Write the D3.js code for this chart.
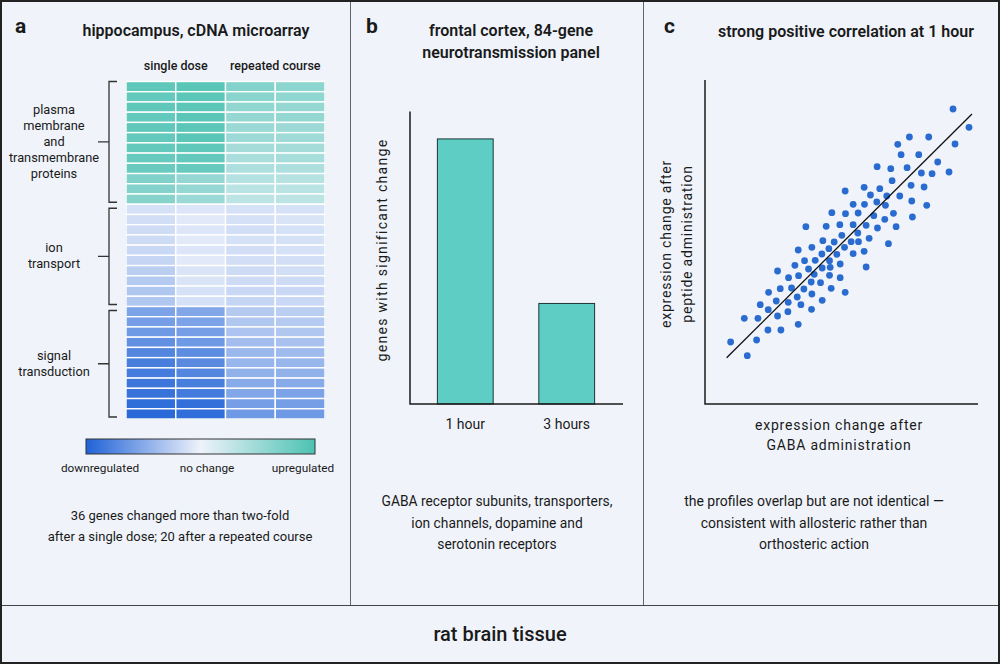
<!DOCTYPE html>
<html>
<head>
<meta charset="utf-8">
<script src="https://cdn.jsdelivr.net/npm/d3@7"></script>
<style>
  body { margin: 0; background: #f0f4fa; }
  text { font-family: Roboto, "Noto Sans", sans-serif; fill: #1a1a1a; }
</style>
</head>
<body>
<div id="graph"></div>
<script>
// page
var width = 1000;
var height = 664;

// panel a: heatmap (rows = genes, columns = 2 x single dose, 2 x repeated course)
var conditions = ["single dose", "repeated course"];
var geneGroups = [["plasma", "membrane", "and", "transmembrane", "proteins"], ["ion", "transport"], ["signal", "transduction"]];
var groupSizes = [12, 10, 11];
var heatValues = [
    [0.88, 0.92, 0.66, 0.60],
    [0.86, 0.90, 0.62, 0.58],
    [0.88, 0.90, 0.58, 0.55],
    [0.86, 0.92, 0.55, 0.55],
    [0.88, 0.90, 0.52, 0.50],
    [0.86, 0.92, 0.50, 0.48],
    [0.85, 0.88, 0.45, 0.45],
    [0.84, 0.86, 0.42, 0.44],
    [0.82, 0.84, 0.40, 0.40],
    [0.68, 0.55, 0.36, 0.34],
    [0.66, 0.55, 0.32, 0.32],
    [0.64, 0.52, 0.30, 0.30],
    [-0.12, -0.08, -0.12, -0.12],
    [-0.14, -0.06, -0.12, -0.10],
    [-0.15, -0.08, -0.14, -0.12],
    [-0.16, -0.06, -0.12, -0.12],
    [-0.18, -0.08, -0.14, -0.12],
    [-0.20, -0.06, -0.14, -0.14],
    [-0.25, -0.10, -0.16, -0.14],
    [-0.28, -0.10, -0.16, -0.16],
    [-0.30, -0.12, -0.18, -0.18],
    [-0.30, -0.12, -0.20, -0.18],
    [-0.55, -0.52, -0.28, -0.25],
    [-0.58, -0.55, -0.30, -0.28],
    [-0.62, -0.58, -0.32, -0.30],
    [-0.68, -0.62, -0.36, -0.34],
    [-0.75, -0.70, -0.40, -0.38],
    [-0.80, -0.72, -0.42, -0.42],
    [-0.82, -0.75, -0.45, -0.45],
    [-0.86, -0.80, -0.50, -0.50],
    [-0.88, -0.82, -0.52, -0.55],
    [-0.92, -0.90, -0.58, -0.58],
    [-0.95, -0.92, -0.62, -0.62]
];
var legendLabels = ["downregulated", "no change", "upregulated"];
var noteA = ["36 genes changed more than two-fold", "after a single dose; 20 after a repeated course"];

// panel b: bars
var titleB = ["frontal cortex, 84-gene", "neurotransmission panel"];
var timePoints = ["1 hour", "3 hours"];
var geneCounts = [29, 11];
var noteB = ["GABA receptor subunits, transporters,", "ion channels, dopamine and", "serotonin receptors"];

// panel c: scatter (arbitrary units)
var gabaChange = [7.60, 8.08, 7.66, 7.48, 6.87, 6.29, 5.94, 6.04, 6.57, 7.14, 6.97, 6.65, 6.22, 5.73, 5.32, 5.77, 6.34,
    6.73, 6.81, 6.36, 6.38, 6.00, 5.89, 5.66, 5.81, 5.55, 5.57, 5.61, 5.40, 5.31, 5.33, 5.22, 5.12, 4.93, 4.94, 4.99,
    5.08, 4.93, 4.99, 4.60, 4.75, 4.36, 4.37, 3.96, 3.79, 3.18, 4.20, 4.60, 4.74, 4.76, 4.54, 4.26, 4.34, 4.60, 4.03,
    3.87, 3.69, 3.66, 4.11, 3.89, 4.21, 3.91, 3.67, 3.89, 4.21, 4.36, 3.94, 3.67, 3.62, 3.46, 3.43, 3.34, 3.36, 3.35,
    3.36, 3.26, 3.14, 2.95, 2.85, 2.96, 2.75, 3.12, 3.03, 2.92, 2.66, 2.41, 2.33, 2.06, 2.29, 2.65, 2.64, 2.33, 2.05,
    1.81, 1.74, 1.33, 0.92, 1.42, 1.70, 2.04, 2.43, 2.95];
var peptideChange = [9.03, 8.48, 7.98, 7.14, 8.19, 8.19, 7.97, 7.66, 7.66, 7.44, 7.09, 7.11, 7.27, 7.24, 7.30, 6.88, 6.74,
    6.69, 6.14, 6.27, 5.79, 6.42, 5.50, 4.99, 5.90, 5.72, 6.14, 6.42, 6.64, 6.24, 5.46, 5.83, 6.45, 6.68, 6.17, 5.54,
    5.15, 4.76, 4.29, 6.17, 5.91, 6.57, 5.89, 5.92, 5.51, 5.50, 5.56, 5.56, 5.31, 5.05, 5.05, 5.24, 4.88, 4.69, 5.04,
    4.84, 5.08, 4.68, 4.67, 4.48, 4.38, 4.28, 4.26, 4.04, 3.97, 3.53, 3.65, 3.29, 3.82, 4.49, 4.07, 3.84, 3.48, 3.02,
    4.88, 4.23, 4.48, 4.80, 4.34, 4.03, 3.66, 3.63, 3.16, 3.39, 3.97, 3.64, 4.17, 3.53, 3.27, 3.23, 2.95, 2.82, 3.01,
    3.16, 2.75, 2.75, 2.04, 1.63, 2.10, 2.40, 2.40, 2.57];
var fitX = [0.80, 8.17];
var fitY = [1.57, 8.88];
var noteC = ["the profiles overlap but are not identical \u2014", "consistent with allosteric rather than", "orthosteric action"];

var svg = d3.select("#graph").append("svg")
    .attr("width", width)
    .attr("height", height);

svg.append("rect")
    .attr("x", 0).attr("y", 0)
    .attr("width", width).attr("height", height)
    .style("fill", "#f0f4fa");

// panel dividers
svg.append("line").attr("x1", 350.5).attr("x2", 350.5).attr("y1", 0).attr("y2", 605)
    .style("stroke", "#666").style("stroke-width", 1);
svg.append("line").attr("x1", 643.5).attr("x2", 643.5).attr("y1", 0).attr("y2", 605)
    .style("stroke", "#666").style("stroke-width", 1);
svg.append("line").attr("x1", 0).attr("x2", width).attr("y1", 605.5).attr("y2", 605.5)
    .style("stroke", "#444").style("stroke-width", 1.2);
svg.append("rect")
    .attr("x", 1).attr("y", 1)
    .attr("width", width - 2).attr("height", height - 2)
    .style("fill", "none").style("stroke", "#222").style("stroke-width", 2);

// panel letters
[["a", 15], ["b", 366], ["c", 664]].forEach(function (p) {
    svg.append("text")
        .attr("x", p[1]).attr("y", 33)
        .style("font-size", "21px").style("font-weight", 700)
        .text(p[0]);
});

function lines(g, arr, x, y0, dy, size, weight) {
    arr.forEach(function (t, i) {
        g.append("text")
            .attr("x", x).attr("y", y0 + i * dy)
            .attr("text-anchor", "middle")
            .style("font-size", size)
            .style("font-weight", weight || 400)
            .text(t);
    });
}

// ---------- panel a ----------
var colour = d3.scaleLinear()
    .domain([-1, 0, 1])
    .range(["#1f62d6", "#eef2fb", "#4cc2b2"]);

svg.append("text")
    .attr("x", 196).attr("y", 36)
    .attr("text-anchor", "middle")
    .style("font-size", "16px").style("font-weight", 600)
    .text("hippocampus, cDNA microarray");

var hx = d3.scaleBand().domain([0, 1, 2, 3]).range([126, 325]);
var hy = d3.scaleBand().domain(d3.range(heatValues.length)).range([81.5, 419]);

conditions.forEach(function (c, i) {
    svg.append("text")
        .attr("x", hx(i * 2) + hx.bandwidth())
        .attr("y", 70)
        .attr("text-anchor", "middle")
        .style("font-size", "12.5px").style("font-weight", 500)
        .text(c);
});

var cells = [];
heatValues.forEach(function (row, r) {
    row.forEach(function (v, c) { cells.push({ r: r, c: c, v: v }); });
});

svg.append("rect")
    .attr("x", 126).attr("y", 81.5)
    .attr("width", 199).attr("height", 337.5)
    .style("fill", "none").style("stroke", "#9bb5c4").style("stroke-width", 1);

svg.selectAll(".cell")
    .data(cells)
    .enter().append("rect")
      .attr("class", "cell")
      .attr("x", function (d) { return hx(d.c); })
      .attr("y", function (d) { return hy(d.r); })
      .attr("width", hx.bandwidth())
      .attr("height", hy.bandwidth())
      .style("fill", function (d) { return colour(d.v); })
      .style("stroke", "#ffffff")
      .style("stroke-width", 1.4);

// group brackets
var start = 0;
groupSizes.forEach(function (n, i) {
    var top = hy(start) + (i == 0 ? 0 : 4);
    var bottom = hy(start + n - 1) + hy.bandwidth() - 2;
    var mid = (top + bottom) / 2;
    svg.append("path")
        .attr("d", "M117," + top + "H109V" + bottom + "H117M109," + mid + "H98")
        .style("fill", "none").style("stroke", "#333").style("stroke-width", 1.3);
    var words = geneGroups[i];
    var y0 = mid - (words.length - 1) * 16 / 2 + 4;
    lines(svg, words, 54, y0, 16, "12.8px");
    start += n;
});

// legend
var defs = svg.append("defs");
var grad = defs.append("linearGradient").attr("id", "heatGrad");
[-1, -0.5, 0, 0.5, 1].forEach(function (v) {
    grad.append("stop")
        .attr("offset", ((v + 1) / 2 * 100) + "%")
        .attr("stop-color", colour(v));
});
svg.append("rect")
    .attr("x", 86).attr("y", 439)
    .attr("width", 229).attr("height", 15)
    .style("fill", "url(#heatGrad)")
    .style("stroke", "#333").style("stroke-width", 1);
[100, 207, 303].forEach(function (x, i) {
    svg.append("text")
        .attr("x", x).attr("y", 472)
        .attr("text-anchor", "middle")
        .style("font-size", "11.8px")
        .text(legendLabels[i]);
});

lines(svg, noteA, 180, 520, 21, "13px");

// ---------- panel b ----------
lines(svg, titleB, 511, 36, 21.5, "16px", 600);

var bx = d3.scaleBand().domain(timePoints).range([410, 622]).paddingInner(0.45).paddingOuter(0.27);
var by = d3.scaleLinear().domain([0, 32]).range([404, 111.5]);

svg.selectAll(".bar")
    .data(geneCounts)
    .enter().append("rect")
      .attr("class", "bar")
      .attr("x", function (d, i) { return bx(timePoints[i]); })
      .attr("y", function (d) { return by(d); })
      .attr("width", bx.bandwidth())
      .attr("height", function (d) { return by(0) - by(d); })
      .style("fill", "#5ecdc4")
      .style("stroke", "#1f3535")
      .style("stroke-width", 1);

svg.append("path")
    .attr("d", "M410," + by(32) + "V" + by(0) + "H623")
    .style("fill", "none").style("stroke", "#1a1a1a").style("stroke-width", 1.5);

timePoints.forEach(function (t) {
    svg.append("text")
        .attr("x", bx(t) + bx.bandwidth() / 2).attr("y", 429)
        .attr("text-anchor", "middle")
        .style("font-size", "14px")
        .text(t);
});

svg.append("text")
    .attr("text-anchor", "middle")
    .attr("transform", "translate(387,250) rotate(-90)")
    .style("font-size", "14px").style("letter-spacing", "1.3px")
    .text("genes with significant change");

lines(svg, noteB, 497, 506, 21.5, "13.8px");

// ---------- panel c ----------
svg.append("text")
    .attr("x", 846).attr("y", 37)
    .attr("text-anchor", "middle")
    .style("font-size", "16px").style("font-weight", 600)
    .text("strong positive correlation at 1 hour");

var sx = d3.scaleLinear().domain([0.15, 8.35]).range([705, 978]);
var sy = d3.scaleLinear().domain([0.18, 9.9]).range([404, 80]);

svg.append("path")
    .attr("d", "M" + sx(0.15) + "," + sy(9.9) + "V" + sy(0.18) + "H" + sx(8.35))
    .style("fill", "none").style("stroke", "#1a1a1a").style("stroke-width", 1.5);

svg.selectAll(".dot")
    .data(gabaChange)
    .enter().append("circle")
      .attr("class", "dot")
      .attr("r", 3.4)
      .attr("cx", function (d) { return sx(d); })
      .attr("cy", function (d, i) { return sy(peptideChange[i]); })
      .style("fill", "#2a6bd0")
      .style("stroke", "none");

svg.append("line")
    .attr("x1", sx(fitX[0])).attr("y1", sy(fitY[0]))
    .attr("x2", sx(fitX[1])).attr("y2", sy(fitY[1]))
    .style("stroke", "#111").style("stroke-width", 1.3);

["expression change after", "GABA administration"].forEach(function (t, i) {
    svg.append("text")
        .attr("x", 839).attr("y", 430 + i * 20)
        .attr("text-anchor", "middle")
        .style("font-size", "14px").style("letter-spacing", "0.8px")
        .text(t);
});
["expression change after", "peptide administration"].forEach(function (t, i) {
    svg.append("text")
        .attr("text-anchor", "middle")
        .attr("transform", "translate(" + (671 + i * 21) + ",244) rotate(-90)")
        .style("font-size", "14px").style("letter-spacing", "0.8px")
        .text(t);
});

lines(svg, noteC, 814, 506, 21.5, "14px");

// ---------- bottom strip ----------
svg.append("text")
    .attr("x", 500).attr("y", 641)
    .attr("text-anchor", "middle")
    .style("font-size", "20px").style("font-weight", 500)
    .text("rat brain tissue");
</script>
</body>
</html>
